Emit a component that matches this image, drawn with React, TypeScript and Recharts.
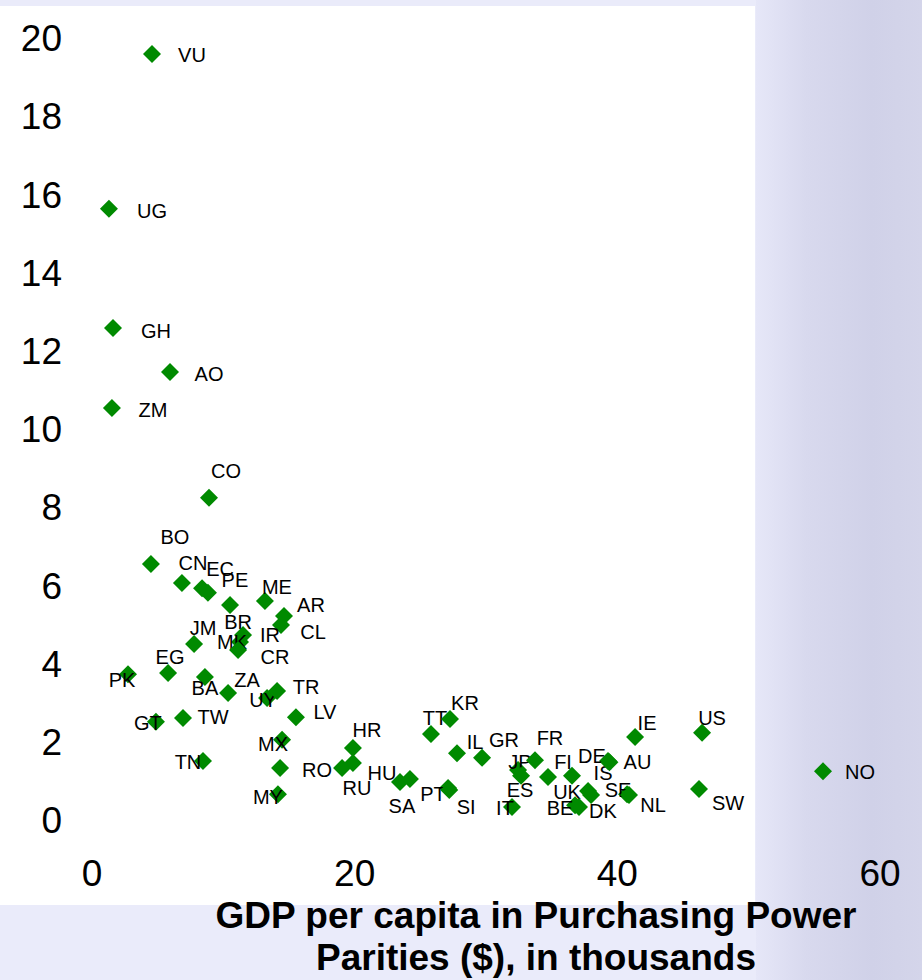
import React from 'react'
import { ScatterChart, Scatter, XAxis, YAxis } from 'recharts'

const FONT = '"Liberation Sans", Arial, sans-serif'

// country codes ('' = point without a label)
const countries = [
  'VU', 'UG', 'GH', 'AO', 'ZM', 'CO', 'BO', 'CN', 'EC', 'PE',
  'BR', 'ME', 'AR', 'CL', 'IR', 'MK', 'CR', 'JM', 'EG', 'PK',
  'BA', 'ZA', 'UY', 'TR', 'LV', 'GT', 'TW', 'MX', 'TN', 'RO',
  'MY', 'HR', 'RU', '', 'HU', 'SA', 'PT', 'SI', 'TT', 'KR',
  'IL', 'GR', 'JP', 'ES', 'FR', '', 'FI', 'IS', 'UK', 'BE',
  'DK', 'DE', 'AU', 'SE', 'NL', 'IE', 'US', 'SW', 'IT', 'NO',
]

// GDP per capita (PPP, $ thousands)
const gdp = [
  4.57, 1.29, 1.6, 5.94, 1.52, 8.91, 4.49, 6.85, 8.38, 8.83,
  10.51, 13.17, 14.62, 14.39, 11.5, 11.27, 11.12, 7.77, 5.79, 2.74,
  8.6, 10.36, 13.33, 14.09, 15.53, 4.87, 6.93, 14.47, 8.45, 14.32,
  14.16, 19.87, 19.87, 19.04, 23.45, 24.21, 27.11, 27.2, 25.81, 27.26,
  27.79, 29.7, 32.44, 32.67, 33.73, 34.72, 36.55, 37.77, 38.0, 36.78,
  37.08, 39.29, 39.4, 40.74, 40.89, 41.35, 46.45, 46.22, 31.98, 55.66,
]

const rate = [
  19.59, 15.63, 12.58, 11.46, 10.54, 8.24, 6.55, 6.06, 5.93, 5.81,
  5.5, 5.6, 5.22, 4.99, 4.73, 4.55, 4.35, 4.5, 3.76, 3.73,
  3.66, 3.25, 3.12, 3.3, 2.63, 2.51, 2.61, 2.05, 1.51, 1.33,
  0.66, 1.84, 1.46, 1.33, 0.97, 1.05, 0.82, 0.77, 2.2, 2.58,
  1.71, 1.59, 1.28, 1.13, 1.53, 1.1, 1.13, 0.74, 0.64, 0.38,
  0.33, 1.51, 1.48, 0.66, 0.64, 2.12, 2.23, 0.79, 0.33, 1.25,
]

const xTicks = [0, 20, 40, 60]
const yTicks = [0, 2, 4, 6, 8, 10, 12, 14, 16, 18, 20]

// label placement relative to its marker, px
const labelOffset: [number, number][] = [
  [40, 1], [43, 2], [43, 3], [39, 2], [41, 2], [17, -27], [24, -27], [11, -20], [18, -19], [27, -13],
  [8, 17], [12, -14], [27, -11], [32, 7], [27, 0], [-8, 0], [37, 7], [9, -16], [2, -16], [-6, 6],
  [0, 11], [19, -13], [-4, 2], [29, -4], [29, -5], [-8, 1], [30, -1], [-9, 4], [-15, 1], [37, 2],
  [-10, 3], [14, -18], [4, 25], [0, 0], [-18, -9], [-8, 27], [-15, 6], [17, 17], [4, -16], [15, -16],
  [18, -11], [22, -18], [2, -8], [-1, 14], [15, -22], [0, 0], [-9, -14], [15, -18], [-24, -3], [-15, 3],
  [24, 4], [-16, -5], [28, 0], [-9, -4], [24, 10], [12, -14], [10, -15], [29, 14], [-7, 1], [37, 1],
]

const rows = countries.map((name, i) => ({
  name, x: gdp[i], y: rate[i], off: labelOffset[i],
}))

function Diamond(props: any) {
  const { cx, cy, payload } = props
  const r = 9
  return (
    <g>
      <polygon
        points={`${cx},${cy - r} ${cx + r},${cy} ${cx},${cy + r} ${cx - r},${cy}`}
        fill="#008a00"
      />
      {payload.name && (
        <text
          x={cx + payload.off[0]}
          y={cy + payload.off[1]}
          textAnchor="middle"
          dominantBaseline="central"
          fontSize={20}
          fontFamily={FONT}
          fill="#000"
        >
          {payload.name}
        </text>
      )}
    </g>
  )
}

export default function App() {
  return (
    <div style={{ position: 'fixed', left: 0, top: 0, width: 922, height: 980, background: '#eaebfa', overflow: 'hidden', fontFamily: FONT }}>
      <div style={{
        position: 'absolute', left: 756, top: 0, width: 166, height: 980,
        background: 'linear-gradient(90deg, #e6e7f8 0%, #d8d9ee 30%, #d0d1e8 70%, #d4d5ea 100%)',
      }} />
      <div style={{ position: 'absolute', left: 0, top: 6, width: 755, height: 899, background: '#fff' }} />

      <ScatterChart
        width={922}
        height={980}
        margin={{ top: 38, right: 42, bottom: 10, left: 0 }}
        style={{ position: 'absolute', left: 0, top: 0 }}
      >
        <XAxis
          type="number"
          dataKey="x"
          domain={[0, 60]}
          ticks={xTicks}
          axisLine={false}
          tickLine={false}
          tickMargin={34}
          height={150}
          tick={{ fontSize: 37, fill: '#000', fontFamily: FONT }}
        />
        <YAxis
          type="number"
          dataKey="y"
          domain={[0, 20]}
          ticks={yTicks}
          axisLine={false}
          tickLine={false}
          tickMargin={24}
          width={92}
          tick={{ fontSize: 37, fill: '#000', fontFamily: FONT }}
        />
        <Scatter data={rows} shape={Diamond} isAnimationActive={false} />
      </ScatterChart>

      <svg width={922} height={980} style={{ position: 'absolute', left: 0, top: 0, pointerEvents: 'none' }}>
        <text x={536} y={928} textAnchor="middle" fontSize={37} fontWeight="bold" fontFamily={FONT} fill="#000">
          GDP per capita in Purchasing Power
        </text>
        <text x={536} y={970} textAnchor="middle" fontSize={37} fontWeight="bold" fontFamily={FONT} fill="#000">
          Parities ($), in thousands
        </text>
      </svg>
    </div>
  )
}
